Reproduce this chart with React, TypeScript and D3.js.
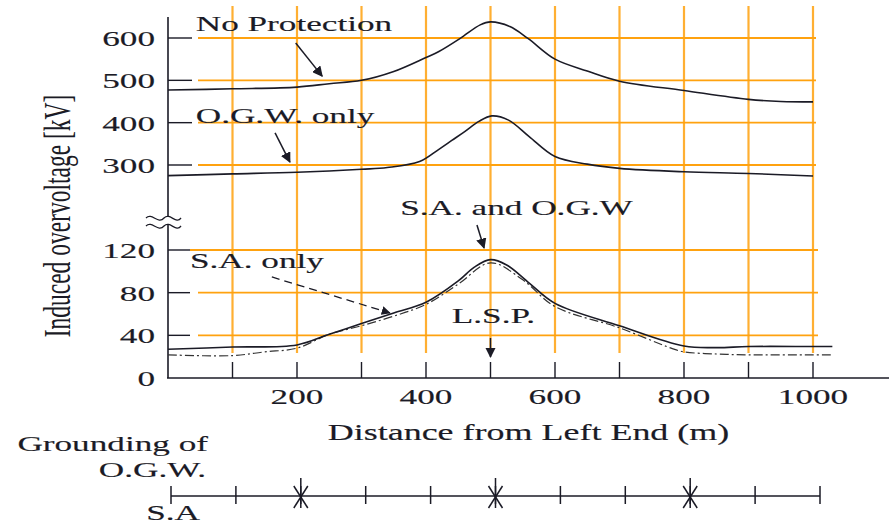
import * as d3 from "d3";

// distances (m) and induced overvoltage (kV)
const distNoProt = [0, 100, 200, 250, 300, 350, 400, 420, 453, 484, 500, 530, 558, 600, 650, 700, 800, 900, 950, 1000];
const kvNoProt = [477, 480, 484, 492, 500, 521, 554, 568, 599, 631, 638, 627, 599, 550, 522, 498, 476, 455, 450, 449];

const distOgw = [0, 100, 200, 300, 340, 390, 420, 440, 460, 482, 502, 528, 560, 600, 650, 700, 800, 900, 1000];
const kvOgw = [275, 279, 283, 290, 294, 308, 337, 358, 379, 403, 416, 406, 367, 320, 302, 292, 284, 280, 274];

const distSaOgw = [0, 100, 200, 250, 300, 350, 400, 450, 475, 500, 525, 560, 600, 700, 800, 850, 900, 1000, 1030];
const kvSaOgw = [27, 29, 31, 41, 51, 61, 71, 91, 104, 111, 106, 89, 70, 49, 30, 28.5, 29.5, 29.5, 29.5];

const distSaOnly = [0, 100, 150, 200, 250, 300, 350, 400, 450, 500, 550, 600, 700, 780, 800, 850, 900, 1000, 1030];
const kvSaOnly = [21.7, 21, 24.5, 28, 41, 49, 58, 69, 88, 108, 92, 67, 47, 28, 24.5, 22.5, 21.7, 21.7, 21.7];

const upperTicks = [300, 400, 500, 600];
const lowerTicks = [0, 40, 80, 120];
const gridX = [100, 200, 300, 400, 500, 600, 700, 800, 900, 1000];
const xTickLabels = [200, 400, 600, 800, 1000];
const groundingPoints = [200, 500, 800];
const towerPoints = [0, 100, 200, 300, 400, 500, 600, 700, 800, 900, 1000];

const INK = "#1b1b26";
const ORANGE = "#ffa20f";
const FONT = "'Liberation Serif', 'Times New Roman', serif";
const SX = 1.6;

const x = d3.scaleLinear().domain([0, 1000]).range([168, 813]);
const yUp = d3.scaleLinear().domain([300, 600]).range([165, 38]);
const yLow = d3.scaleLinear().domain([0, 120]).range([378, 250]);
const xb = d3.scaleLinear().domain([0, 1000]).range([171, 820]);

const T = ({ px, py, text, anchor = "start", size = 22 }: { px: number; py: number; text: string; anchor?: string; size?: number }) => (
  <text
    transform={`translate(${px},${py}) scale(${SX},1)`}
    textAnchor={anchor}
    fontFamily={FONT}
    fontSize={size}
    fill={INK}
    stroke={INK}
    strokeWidth={0.15}
  >
    {text}
  </text>
);

const makePath = (ds: number[], vs: number[], y: d3.ScaleLinear<number, number>) =>
  d3
    .line<number>()
    .x((_, i) => x(ds[i]))
    .y((v) => y(v))
    .curve(d3.curveCatmullRom.alpha(0.5))(vs) || "";

export default function App() {
  return (
    <svg width={889} height={524} style={{ position: "absolute", left: 0, top: 0, background: "#fff" }}>
      <defs>
        <marker id="head" viewBox="0 0 10 10" refX="9" refY="5" markerWidth="7" markerHeight="7" orient="auto-start-reverse">
          <path d="M0,0 L10,5 L0,10 z" fill={INK} />
        </marker>
      </defs>

      {/* orange grid */}
      {gridX.map((d) => (
        <line key={"gx" + d} x1={x(d)} x2={x(d)} y1={6} y2={353} stroke={ORANGE} strokeWidth={2.2} opacity={0.85} />
      ))}
      {upperTicks.map((v) => (
        <line key={"gu" + v} x1={198} x2={816} y1={yUp(v)} y2={yUp(v)} stroke={ORANGE} strokeWidth={1.8} />
      ))}
      {lowerTicks.filter((v) => v > 0).map((v) => (
        <line key={"gl" + v} x1={v === 120 ? 190 : 198} x2={818} y1={yLow(v)} y2={yLow(v)} stroke={ORANGE} strokeWidth={1.8} />
      ))}

      {/* axes */}
      <line x1={168} x2={168} y1={17} y2={378} stroke={INK} strokeWidth={1.6} />
      <line x1={167} x2={889} y1={378} y2={378} stroke={INK} strokeWidth={1.6} />
      {upperTicks.map((v) => (
        <line key={"tu" + v} x1={168} x2={192} y1={yUp(v)} y2={yUp(v)} stroke={INK} strokeWidth={1.4} />
      ))}
      {lowerTicks.filter((v) => v > 0).map((v) => (
        <line key={"tl" + v} x1={168} x2={190} y1={yLow(v)} y2={yLow(v)} stroke={INK} strokeWidth={1.4} />
      ))}
      {gridX.map((d) => (
        <line key={"tx" + d} x1={x(d)} x2={x(d)} y1={362} y2={378} stroke={INK} strokeWidth={1.4} />
      ))}

      {/* axis break */}
      <path d="M146,218 C152,212 158,225 164,218 C170,212 176,225 181,218 L181,226 C175,233 169,220 164,226 C158,233 152,220 146,226 Z" fill="#fff" />
      <path d="M146,218 C152,212 158,225 164,218 C170,212 176,225 181,218" fill="none" stroke={INK} strokeWidth={1.3} />
      <path d="M146,226 C152,220 158,233 164,226 C170,220 176,233 181,226" fill="none" stroke={INK} strokeWidth={1.3} />

      {/* tick labels */}
      {upperTicks.map((v) => (
        <T key={"lu" + v} px={155} py={yUp(v) + 8} text={String(v)} anchor="end" />
      ))}
      {lowerTicks.map((v) => (
        <T key={"ll" + v} px={155} py={yLow(v) + 8} text={String(v)} anchor="end" />
      ))}
      {xTickLabels.map((d) => (
        <T key={"lx" + d} px={x(d)} py={404} text={String(d)} anchor="middle" />
      ))}

      {/* axis titles */}
      <text
        transform={`translate(70,216) scale(${SX},1) rotate(-90)`}
        textAnchor="middle"
        fontFamily={FONT}
        fontSize={23.5}
        fill={INK}
      >
        Induced overvoltage [kV]
      </text>
      <T px={x(500) + 38} py={440} text="Distance from Left End (m)" anchor="middle" size={22.5} />

      {/* curves */}
      <path d={makePath(distNoProt, kvNoProt, yUp)} fill="none" stroke={INK} strokeWidth={1.6} />
      <path d={makePath(distOgw, kvOgw, yUp)} fill="none" stroke={INK} strokeWidth={1.6} />
      <path d={makePath(distSaOnly, kvSaOnly, yLow)} fill="none" stroke="#333" strokeWidth={1.2} strokeDasharray="9 3 2 3" />
      <path d={makePath(distSaOgw, kvSaOgw, yLow)} fill="none" stroke={INK} strokeWidth={1.6} />

      {/* annotations */}
      <T px={x(43)} py={yUp(616.5)} text="No Protection" />
      <line x1={x(198)} y1={yUp(588)} x2={x(239)} y2={yUp(510)} stroke={INK} strokeWidth={1.5} markerEnd="url(#head)" />
      <T px={x(43)} py={yUp(399)} text="O.G.W. only" />
      <line x1={x(166)} y1={yUp(376)} x2={x(189)} y2={yUp(307)} stroke={INK} strokeWidth={1.5} markerEnd="url(#head)" />
      <T px={x(360)} py={yLow(152.8)} text="S.A. and O.G.W" />
      <line x1={x(479)} y1={yLow(143.4)} x2={x(490)} y2={yLow(121.9)} stroke={INK} strokeWidth={1.5} markerEnd="url(#head)" />
      <T px={x(34)} py={yLow(103)} text="S.A. only" />
      <line x1={x(161)} y1={yLow(94.7)} x2={x(344)} y2={yLow(61)} stroke={INK} strokeWidth={1.3} strokeDasharray="8 5" markerEnd="url(#head)" />
      <T px={x(440)} py={yLow(51.6)} text="L.S.P." />
      <line x1={x(500)} y1={yLow(37.5)} x2={x(500)} y2={yLow(19.7)} stroke={INK} strokeWidth={1.5} markerEnd="url(#head)" />

      {/* grounding diagram */}
      <T px={208} py={451} text="Grounding of" anchor="end" />
      <T px={206} py={477} text="O.G.W." anchor="end" />
      <T px={200} py={520} text="S.A" anchor="end" />
      <line x1={xb(0)} x2={xb(1000)} y1={496} y2={496} stroke={INK} strokeWidth={1.6} />
      {towerPoints.map((d) => (
        <line key={"tw" + d} x1={xb(d)} x2={xb(d)} y1={486} y2={504} stroke={INK} strokeWidth={1.5} />
      ))}
      {groundingPoints.map((d) => (
        <g key={"gp" + d} stroke={INK} strokeWidth={1.5}>
          <line x1={xb(d)} x2={xb(d)} y1={478} y2={508} />
          <line x1={xb(d) - 7} x2={xb(d) + 7} y1={486} y2={508} />
          <line x1={xb(d) + 7} x2={xb(d) - 7} y1={486} y2={508} />
        </g>
      ))}
    </svg>
  );
}
